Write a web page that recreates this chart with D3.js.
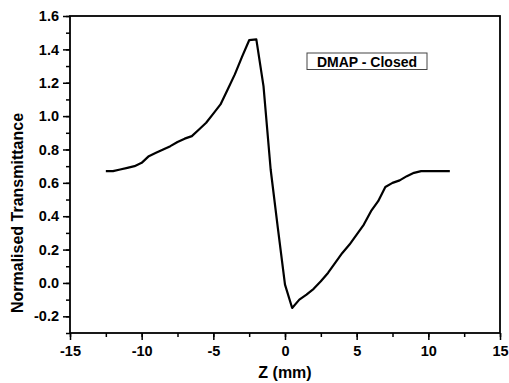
<!DOCTYPE html>
<html>
<head>
<meta charset="utf-8">
<script src="https://cdn.jsdelivr.net/npm/d3@7"></script>
<style>
  body { margin: 0; background: #fff; }
  text { font-family: "Liberation Sans", Arial, sans-serif; font-weight: bold; }
</style>
</head>
<body>
<svg id="chart"></svg>
<script>
// Z position (mm) and normalised transmittance
const zPos = [-12.5, -12.0, -11.5, -11.0, -10.5, -10.0, -9.5, -9.0, -8.5, -8.0,
              -7.5, -7.0, -6.5, -6.0, -5.5, -5.0, -4.5, -4.0, -3.5, -3.0,
              -2.5, -2.0, -1.5, -1.0, -0.5, 0.0, 0.5, 1.0, 1.5, 2.0,
              2.5, 3.0, 3.5, 4.0, 4.5, 5.0, 5.5, 6.0, 6.5, 7.0,
              7.5, 8.0, 8.5, 9.0, 9.5, 10.0, 10.5, 11.0, 11.5]
const transmittance = [0.67, 0.67, 0.68, 0.69, 0.70, 0.72, 0.76, 0.78, 0.80, 0.82,
                       0.845, 0.865, 0.88, 0.92, 0.96, 1.015, 1.07, 1.16, 1.25, 1.355,
                       1.455, 1.46, 1.18, 0.68, 0.33, -0.01, -0.15, -0.10, -0.07, -0.035,
                       0.01, 0.06, 0.12, 0.18, 0.23, 0.29, 0.35, 0.43, 0.49, 0.575,
                       0.60, 0.615, 0.64, 0.66, 0.67, 0.67, 0.67, 0.67, 0.67]
const xTicks = [-15, -10, -5, 0, 5, 10, 15]
const yTicks = [-0.2, 0.0, 0.2, 0.4, 0.6, 0.8, 1.0, 1.2, 1.4, 1.6]
const legendLabel = "DMAP - Closed"

const width = 509, height = 383
const margin = {top: 16, right: 9, bottom: 50, left: 70}

const svg = d3.select("#chart")
    .attr("width", width)
    .attr("height", height)

const xScale = d3.scaleLinear()
        .domain([-15, 15])
        .range([margin.left, width - margin.right]),
      yScale = d3.scaleLinear()
        .domain([-0.3, 1.6])
        .range([height - margin.bottom, margin.top])

// plain hyphen for negatives, like the original
const hyphen = f => d => f(d).replace("\u2212", "-")

// minor ticks first, then major ticks with labels
svg.append("g")
    .attr("transform", `translate(0,${yScale(-0.3)})`)
    .call(d3.axisBottom(xScale).tickValues(d3.range(-15, 15.1, 2.5)).tickSize(4).tickFormat(""))
    .call(g => g.select(".domain").remove())
    .selectAll("line").attr("stroke-width", 1.5)

const xAxisView = svg.append("g")
    .attr("transform", `translate(0,${yScale(-0.3)})`)
    .call(d3.axisBottom(xScale).tickValues(xTicks).tickSize(7).tickPadding(6).tickFormat(hyphen(d3.format("d"))))
xAxisView.select(".domain").remove()
xAxisView.selectAll("line").attr("stroke-width", 1.5)
xAxisView.selectAll("text").attr("font-size", 14.5).attr("fill", "#000")

svg.append("g")
    .attr("transform", `translate(${xScale(-15)},0)`)
    .call(d3.axisLeft(yScale).tickValues(d3.range(-0.3, 1.61, 0.1)).tickSize(4).tickFormat(""))
    .call(g => g.select(".domain").remove())
    .selectAll("line").attr("stroke-width", 1.5)

const yAxisView = svg.append("g")
    .attr("transform", `translate(${xScale(-15)},0)`)
    .call(d3.axisLeft(yScale).tickValues(yTicks).tickSize(7).tickPadding(4).tickFormat(hyphen(d3.format(".1f"))))
yAxisView.select(".domain").remove()
yAxisView.selectAll("line").attr("stroke-width", 1.5)
yAxisView.selectAll("text").attr("font-size", 14.5).attr("fill", "#000")

// frame
svg.append("rect")
    .attr("x", xScale(-15))
    .attr("y", yScale(1.6))
    .attr("width", xScale(15) - xScale(-15))
    .attr("height", yScale(-0.3) - yScale(1.6))
    .attr("fill", "none")
    .attr("stroke", "#000")
    .attr("stroke-width", 1.8)

const line = d3.line()
    .x((d, i) => xScale(zPos[i]))
    .y(d => yScale(d))

svg.append("path")
    .datum(transmittance)
    .attr("d", line)
    .attr("fill", "none")
    .attr("stroke", "#000")
    .attr("stroke-width", 2.2)
    .attr("stroke-linejoin", "round")

// legend box
const legend = svg.append("g")
legend.append("rect")
    .attr("x", 307).attr("y", 53)
    .attr("width", 120).attr("height", 16.5)
    .attr("fill", "#fff")
    .attr("stroke", "#444")
    .attr("stroke-width", 1)
legend.append("text")
    .attr("x", 367).attr("y", 66.5)
    .attr("text-anchor", "middle")
    .attr("font-size", 14)
    .text(legendLabel)

// axis titles
svg.append("text")
    .attr("x", xScale(0))
    .attr("y", 378)
    .attr("text-anchor", "middle")
    .attr("font-size", 16)
    .text("Z (mm)")

svg.append("text")
    .attr("transform", "translate(23,213) rotate(-90)")
    .attr("text-anchor", "middle")
    .attr("font-size", 16)
    .text("Normalised Transmittance")
</script>
</body>
</html>
